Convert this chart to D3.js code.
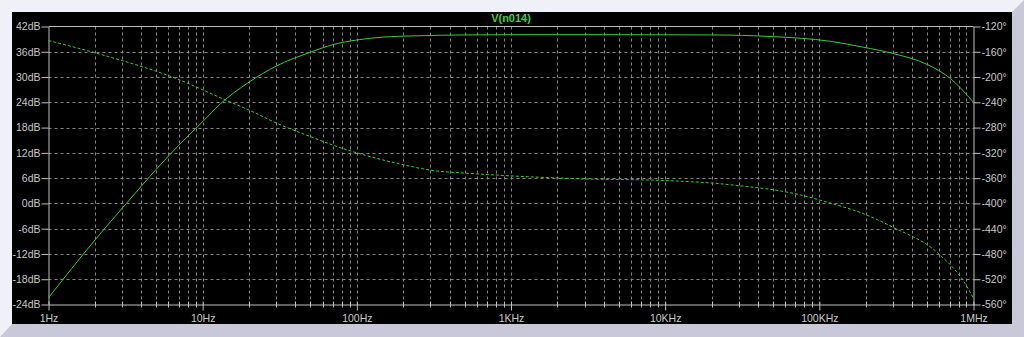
<!DOCTYPE html>
<html>
<head>
<meta charset="utf-8">
<script src="https://cdn.jsdelivr.net/npm/d3@7"></script>
<style>
  body { margin: 0; background: #f0f0f8; }
  svg { display: block; }
  .ax text { font-family: "Liberation Sans", Arial, sans-serif; font-size: 10.5px; fill: #c8c8c8; }
  .ax line, .ax path { stroke: #c0c0c0; }
</style>
</head>
<body>
<script>
// trace name
var traceName = "V(n014)";

// magnitude trace (solid)
var magFreq = [1, 2, 3.2, 5, 7, 10, 13, 20, 30, 50, 70, 100, 150, 250, 500, 1000, 5000, 20000, 50000, 117000, 192000, 300000, 500000, 700000, 1000000];
var magDb   = [-22.4, -8.7, 0, 8.1, 13.8, 19.4, 23.6, 28.8, 32.6, 35.9, 37.7, 38.8, 39.5, 39.8, 40, 40.05, 40.05, 40, 39.6, 38.5, 37.1, 35.6, 33, 29.8, 24];

// phase trace (dashed)
var phaseFreq = [1, 2.05, 6.8, 14.3, 20.3, 30.2, 49.7, 78.5, 105, 189, 314, 500, 850, 2800, 9800, 20600, 33900, 50500, 75000, 112000, 192000, 300000, 590000, 883000, 1000000];
var phaseDeg  = [-142.2, -162.3, -202.8, -237.1, -253, -273, -294, -312, -321.5, -337.4, -348, -352, -355.5, -361, -363.8, -368, -373.3, -378.5, -386.4, -398, -416, -437.7, -479, -527, -550];

// axis ticks
var freqTicks = [1, 10, 100, 1000, 10000, 100000, 1000000];
var freqLabels = ["1Hz", "10Hz", "100Hz", "1KHz", "10KHz", "100KHz", "1MHz"];
var dbTicks = [-24, -18, -12, -6, 0, 6, 12, 18, 24, 30, 36, 42];
var phaseTicks = [-560, -520, -480, -440, -400, -360, -320, -280, -240, -200, -160, -120];

var width = 1024;
var height = 337;
var plotL = 48.5, plotR = 973.5, plotT = 26.5, plotB = 304.5;

var svg = d3.select("body").append("svg").attr("width", width).attr("height", height);

// bevelled frame
svg.append("rect").attr("width", width).attr("height", height).attr("fill", "#f0f0f8");
svg.append("polygon")
    .attr("points", "1024,0 1024,337 0,337 12,324 1012,324 1012,12")
    .attr("fill", "#c8c8d8");
svg.append("rect").attr("x", 12).attr("y", 12).attr("width", 1000).attr("height", 312).attr("fill", "#000");

var x = d3.scaleLog().domain([1, 1000000]).range([plotL, plotR]);
var yDb = d3.scaleLinear().domain([-24, 42]).range([plotB, plotT]);
var yPh = d3.scaleLinear().domain([-560, -120]).range([plotB, plotT]);

// minor frequency positions 2..9 per decade
var minorFreq = [];
freqTicks.slice(0, -1).forEach(function(d) {
    for (var k = 2; k <= 9; k++) minorFreq.push(d * k);
});

// grid
var grid = svg.append("g").attr("stroke", "#848484").attr("stroke-dasharray", "3,3");
grid.selectAll("line.v")
    .data(minorFreq.concat(freqTicks.slice(1, -1)))
    .enter().append("line")
    .attr("x1", function(d) { return Math.round(x(d)) + 0.5; })
    .attr("x2", function(d) { return Math.round(x(d)) + 0.5; })
    .attr("y1", plotT).attr("y2", plotB);
grid.selectAll("line.h")
    .data(dbTicks.slice(1, -1))
    .enter().append("line")
    .attr("x1", plotL).attr("x2", plotR)
    .attr("y1", function(d) { return Math.round(yDb(d)) + 0.5; })
    .attr("y2", function(d) { return Math.round(yDb(d)) + 0.5; });

// left axis
svg.append("g").attr("class", "ax")
    .attr("transform", "translate(" + plotL + ",0)")
    .call(d3.axisLeft(yDb).tickValues(dbTicks).tickFormat(function(d) { return d + "dB"; })
        .tickSize(7).tickSizeOuter(0).tickPadding(1));

// right axis
svg.append("g").attr("class", "ax")
    .attr("transform", "translate(" + plotR + ",0)")
    .call(d3.axisRight(yPh).tickValues(phaseTicks).tickFormat(function(d) { return d + "\u00b0"; })
        .tickSize(7).tickSizeOuter(0).tickPadding(1));

// bottom axis
var bx = svg.append("g").attr("class", "ax")
    .attr("transform", "translate(0," + plotB + ")")
    .call(d3.axisBottom(x).tickValues(freqTicks).tickFormat(function(d, i) { return freqLabels[i]; })
        .tickSize(6).tickSizeOuter(0).tickPadding(4));
bx.selectAll(".tick line").attr("y1", -3);
bx.selectAll("line.minor")
    .data(minorFreq)
    .enter().append("line")
    .attr("x1", function(d) { return Math.round(x(d)) + 0.5; })
    .attr("x2", function(d) { return Math.round(x(d)) + 0.5; })
    .attr("y1", -3).attr("y2", 3)
    .attr("stroke", "#c0c0c0");

// top border
svg.append("line").attr("x1", plotL).attr("x2", plotR).attr("y1", plotT).attr("y2", plotT).attr("stroke", "#c0c0c0");

svg.selectAll(".ax text").attr("font-family", null).attr("font-size", null);

// traces
var magLine = d3.line()
    .x(function(d, i) { return x(magFreq[i]); })
    .y(function(d) { return yDb(d); })
    .curve(d3.curveMonotoneX);
svg.append("path")
    .attr("d", magLine(magDb))
    .attr("fill", "none")
    .attr("stroke", "#3cc83c")
    .attr("stroke-width", 1);

var phaseLine = d3.line()
    .x(function(d, i) { return x(phaseFreq[i]); })
    .y(function(d) { return yPh(d); })
    .curve(d3.curveMonotoneX);
svg.append("path")
    .attr("d", phaseLine(phaseDeg))
    .attr("fill", "none")
    .attr("stroke", "#3cc83c")
    .attr("stroke-width", 1)
    .attr("stroke-dasharray", "3,2");

// title
svg.append("text")
    .attr("x", (plotL + plotR) / 2)
    .attr("y", 22)
    .attr("text-anchor", "middle")
    .style("font-family", "Liberation Sans, Arial, sans-serif")
    .style("font-size", "11px")
    .style("font-weight", "bold")
    .attr("fill", "#40d040")
    .text(traceName);
</script>
</body>
</html>
